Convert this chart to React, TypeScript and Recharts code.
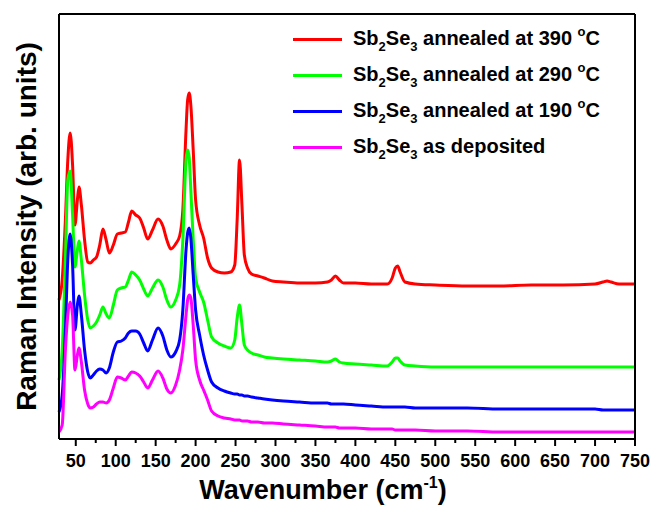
import { LineChart, Line, XAxis, YAxis, Legend } from "recharts";

// Raman shift grid (cm^-1) shared by all four spectra
const wavenumber = [
  29, 33, 37, 40, 43, 46, 49, 52, 54, 57,
  61, 65, 68, 72, 76, 80, 84, 88, 92, 97,
  102, 107, 112, 116, 120, 125, 130, 135, 140, 146,
  153, 159, 164, 169, 175, 180, 184, 188, 190, 192,
  194, 197, 200, 205, 210, 215, 220, 228, 236, 244,
  249, 252, 255, 258, 261, 265, 270, 278, 286, 296,
  310, 330, 350, 365, 370, 375, 380, 385, 400, 420,
  440, 446, 450, 453, 456, 462, 475, 500, 540, 580,
  620, 660, 700, 710, 715, 720, 730, 750,
];

// intensities (arb. units, stacked offsets as in the figure)
const annealed390 = [
  139, 159, 219, 279, 306, 274, 214, 239, 252, 234,
  199, 177, 176, 179, 182, 194, 210, 199, 186, 194,
  205, 206, 207, 217, 228, 224, 221, 211, 200, 209,
  220, 213, 199, 190, 195, 203, 229, 309, 339, 346,
  334, 289, 239, 214, 201, 181, 171, 167, 166, 167,
  174, 219, 279, 234, 184, 171, 165, 163, 161, 158,
  157, 156, 156, 157, 159, 163, 159, 156, 156, 155,
  155, 161, 171, 173, 167, 157, 155, 154, 153, 153,
  154, 154, 155, 157, 158, 157, 155, 155,
];

const annealed290 = [
  59, 89, 179, 259, 268, 224, 172, 189, 198, 179,
  144, 119, 111, 113, 117, 124, 132, 125, 121, 134,
  149, 151, 152, 159, 167, 164, 159, 150, 143, 151,
  159, 152, 139, 132, 139, 154, 199, 279, 289, 281,
  249, 199, 161, 147, 137, 119, 102, 96, 93, 91,
  99, 121, 134, 114, 94, 89, 86, 84, 82, 81,
  80, 79, 78, 77, 78, 80, 77, 76, 75, 74,
  73, 77, 81, 81, 78, 74, 73, 72, 72, 72,
  72, 72, 72, 72, 72, 72, 72, 72,
];

const annealed190 = [
  27, 44, 109, 179, 205, 174, 109, 134, 143, 124,
  89, 67, 61, 64, 68, 70, 69, 66, 71, 87,
  97, 98, 101, 106, 108, 108, 105, 96, 88, 99,
  111, 103, 89, 82, 87, 99, 129, 189, 206, 211,
  201, 164, 129, 104, 84, 69, 57, 51, 48, 46,
  45, 45, 44, 44, 43, 43, 42, 41, 40, 39,
  38, 37, 36, 36, 35, 35, 35, 35, 34, 33,
  32, 32, 32, 32, 32, 32, 31, 31, 31, 30,
  30, 30, 30, 29, 29, 29, 29, 29,
];

const asDeposited = [
  7, 14, 89, 124, 137, 124, 69, 84, 91, 77,
  49, 35, 31, 32, 35, 37, 37, 36, 39, 51,
  62, 61, 59, 63, 67, 66, 63, 57, 51, 59,
  68, 61, 50, 46, 54, 69, 89, 124, 139, 144,
  141, 114, 79, 59, 49, 39, 28, 23, 21, 20,
  19, 19, 19, 18, 18, 18, 17, 17, 16, 16,
  15, 14, 13, 12, 12, 12, 11, 11, 11, 10,
  10, 10, 9, 9, 9, 9, 9, 8, 8, 7,
  7, 7, 7, 7, 7, 7, 7, 7,
];

const majorTicks = [50, 100, 150, 200, 250, 300, 350, 400, 450, 500, 550, 600, 650, 700, 750];
const minorTicks = [75, 125, 175, 225, 275, 325, 375, 425, 475, 525, 575, 625, 675, 725];

const SERIES = [
  { key: "a390", label: "annealed at", temp: "390", color: "#ff0000" },
  { key: "a290", label: "annealed at", temp: "290", color: "#00ff00" },
  { key: "a190", label: "annealed at", temp: "190", color: "#0000ff" },
  { key: "dep", label: "as deposited", temp: "", color: "#ff00ff" },
];

const data = wavenumber.map((w, i) => ({
  w,
  a390: annealed390[i],
  a290: annealed290[i],
  a190: annealed190[i],
  dep: asDeposited[i],
}));

const FONT = "'Liberation Sans', Arial, Helvetica, sans-serif";

function XTick(props: any) {
  const { x, y, payload } = props;
  const major = payload.value % 50 === 0;
  return (
    <g>
      <line x1={x} x2={x} y1={y} y2={y + (major ? 7 : 4)} stroke="#000" strokeWidth={2} />
      {major && (
        <text x={x} y={y + 28} textAnchor="middle" fontFamily={FONT} fontWeight={700} fontSize={18} fill="#000">
          {payload.value}
        </text>
      )}
    </g>
  );
}

function XTitle(props: any) {
  const { viewBox } = props;
  const cx = viewBox.x + viewBox.width / 2 - 24;
  return (
    <text x={cx} y={viewBox.y + 60} textAnchor="middle" fontFamily={FONT} fontWeight={700} fontSize={27} fill="#000">
      Wavenumber (cm
      <tspan fontSize={16} dy={-11}>-1</tspan>
      <tspan dy={11}>)</tspan>
    </text>
  );
}

const SUB = { fontSize: 13, position: "relative" as const, top: 6, verticalAlign: "baseline" };
const SUP = { fontSize: 13, position: "relative" as const, top: -9, verticalAlign: "baseline" };

function LegendBox() {
  return (
    <div style={{ fontFamily: FONT, fontWeight: 700, fontSize: 20, color: "#000" }}>
      {SERIES.map((s) => (
        <div key={s.key} style={{ display: "flex", alignItems: "center", height: 36 }}>
          <span style={{ display: "inline-block", width: 49, height: 3, background: s.color, marginRight: 11 }} />
          <span style={{ whiteSpace: "nowrap", lineHeight: "20px" }}>
            Sb<span style={SUB}>2</span>Se<span style={SUB}>3</span> {s.label}
            {s.temp && (
              <>
                {" "}
                {s.temp} <span style={SUP}>o</span>C
              </>
            )}
          </span>
        </div>
      ))}
    </div>
  );
}

export default function App() {
  return (
    <div style={{ width: 652, height: 505, background: "#fff" }}>
      <style>{"body{margin:0}"}</style>
      <LineChart width={652} height={505} data={data} margin={{ top: 13, right: 16, left: 58, bottom: 0 }}>
        <XAxis
          dataKey="w"
          type="number"
          domain={[29, 750]}
          ticks={[...majorTicks, ...minorTicks].sort((a, b) => a - b)}
          interval={0}
          tickSize={0}
          tickMargin={0}
          tickLine={false}
          tick={<XTick />}
          height={66}
          axisLine={{ stroke: "#000", strokeWidth: 2 }}
          label={<XTitle />}
        />
        <XAxis
          xAxisId="top"
          orientation="top"
          dataKey="w"
          type="number"
          domain={[29, 750]}
          height={1}
          tick={false}
          tickLine={false}
          axisLine={{ stroke: "#000", strokeWidth: 2 }}
        />
        <YAxis
          type="number"
          domain={[0, 425]}
          width={1}
          tick={false}
          tickLine={false}
          axisLine={{ stroke: "#000", strokeWidth: 2 }}
          label={{
            value: "Raman Intensity (arb. units)",
            angle: -90,
            position: "left",
            offset: 32,
            style: { textAnchor: "middle", fontFamily: FONT, fontWeight: 700, fontSize: 28, fill: "#000" },
          }}
        />
        <YAxis
          yAxisId="right"
          orientation="right"
          type="number"
          domain={[0, 425]}
          width={1}
          tick={false}
          tickLine={false}
          axisLine={{ stroke: "#000", strokeWidth: 2 }}
        />
        <Legend
          layout="vertical"
          align="center"
          verticalAlign="middle"
          content={<LegendBox />}
          wrapperStyle={{ left: 293, top: 21, width: 340 }}
        />
        {SERIES.map((s) => (
          <Line
            key={s.key}
            type="monotone"
            dataKey={s.key}
            stroke={s.color}
            strokeWidth={3}
            dot={false}
            activeDot={false}
            isAnimationActive={false}
          />
        ))}
      </LineChart>
    </div>
  );
}
